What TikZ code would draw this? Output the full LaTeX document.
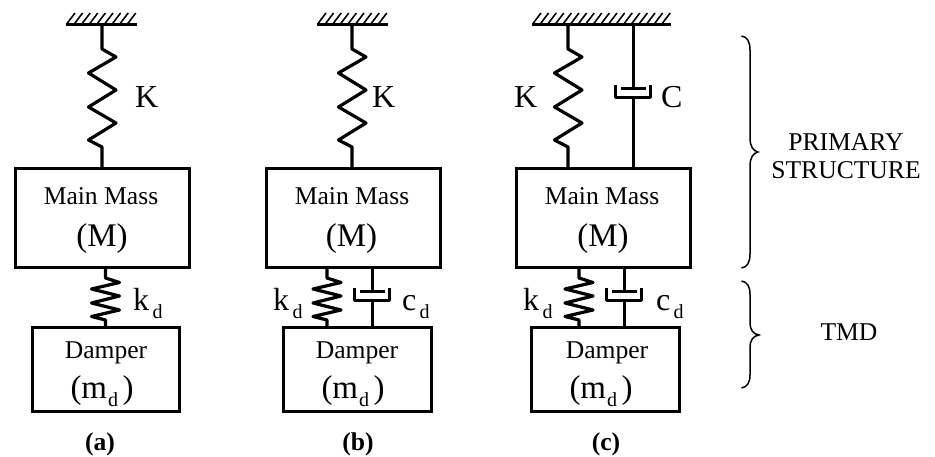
\documentclass[tikz,border=0pt]{standalone}
\usepackage{fontspec}
\setmainfont{Liberation Serif}
\newcommand{\fsz}[1]{\fontsize{#1}{#1}\selectfont}
\newcommand{\subd}[1][3.5pt]{\kern#1\raisebox{-8pt}{\fsz{20}d}}
\tikzset{
  boxstyle/.style={draw,line width=3pt,rectangle,inner sep=0pt,outer sep=0pt},
  wire/.style={line width=3.2pt,line join=round},
  rod/.style={line width=3pt},
  barline/.style={line width=3.2pt},
  hatchline/.style={line width=1.6pt},
  bracel/.style={line width=1.5pt},
  lab/.style={anchor=base,inner sep=0pt,outer sep=0pt,font=\fsz{25.6}},
  big/.style={anchor=base west,inner sep=0pt,outer sep=0pt,font=\fsz{32}},
  paren/.style={anchor=base west,inner sep=0pt,outer sep=0pt,font=\fsz{33}}
}
% ground bar: name, x1, x2
\newcommand{\groundbar}[3]{%
  \draw[barline] (#2,24.5) -- (#3,24.5);
  \pgfmathsetmacro{\hend}{#3-9}
  \pgfmathsetmacro{\hnext}{#2+7.6}
  \foreach \hx in {#2,\hnext,...,\hend}{\draw[hatchline] (\hx+1,23.5) -- (\hx+9,13);}
}
% upper spring from coordinate to coordinate
\newcommand{\upspring}[2]{%
  \draw[wire] (#1) -- ++(0,24.5) -- ++(14,8) -- ++(-27.5,16) -- ++(27.5,17) -- ++(-27.5,17) -- ++(27.5,16) -- ++(-27.5,17) -- ++(13.5,7) -- (#2);
}
% lower spring
\newcommand{\lowspring}[2]{%
  \draw[wire] (#1) -- ++(0,10) -- ++(14,4.5) -- ++(-28,6.5) -- ++(28,7) -- ++(-28,7) -- ++(28,7) -- ++(-28,6.5) -- ++(14,3.5) -- (#2);
}
% dashpot: piston coordinate, upper anchor, lower anchor
\newcommand{\dashpot}[3]{%
  \draw[rod] (#1 |- #2) -- (#1);
  \draw[rod] (#1) ++(-12.5,0) -- ++(25,0);
  \draw[rod,line join=round] (#1) ++(-17.5,-4) -- ++(0,13) -- ++(35,0) -- ++(0,-13);
  \draw[rod] (#1) ++(0,9) -- (#1 |- #3);
}
\begin{document}
\begin{tikzpicture}[x=1pt,y=-1pt]
\useasboundingbox (0,0) rectangle (935,457);

% ----- (a)
\groundbar{a}{66}{137}
\coordinate (ga) at (102,24.5);
\node[boxstyle,minimum width=174pt,minimum height=99pt] (ma) at (102,218.5) {};
\node[boxstyle,minimum width=147pt,minimum height=84pt] (da) at (105.5,369) {};
\coordinate (sa) at (105.5,268);
\upspring{ga}{ga |- ma.north}
\lowspring{sa}{sa |- da.north}
\node[big] (Ka) at (135,108) {K};
\node[big] (kda) at (133,311) {k\subd};
\node[lab] (mma) at (101,205) {Main Mass};
\node[anchor=base,inner sep=0pt,font=\fsz{33}] (Ma) at (102,247) {(M)};
\node[lab] (dpa) at (106,358) {Damper};
\node[paren] (mda) at (70.5,398) {(m\subd[1pt]\kern4.5pt)};
\node[lab,font=\fsz{25.6}\bfseries] (capa) at (100,450) {(a)};

% ----- (b)
\groundbar{b}{317}{388}
\coordinate (gb) at (352,24.5);
\node[boxstyle,minimum width=174pt,minimum height=99pt] (mb) at (353,218.5) {};
\node[boxstyle,minimum width=148pt,minimum height=84pt] (db) at (357,369) {};
\coordinate (sb) at (327,268);
\coordinate (pb) at (372,292);
\upspring{gb}{gb |- mb.north}
\lowspring{sb}{sb |- db.north}
\dashpot{pb}{mb.south}{db.north}
\node[big] (Kb) at (372,108) {K};
\node[big] (kdb) at (273,311) {k\subd};
\node[big] (cdb) at (402,311) {c\subd};
\node[lab] (mmb) at (352,205) {Main Mass};
\node[anchor=base,inner sep=0pt,font=\fsz{33}] (Mb) at (351.5,247) {(M)};
\node[lab] (dpb) at (357,358) {Damper};
\node[paren] (mdb) at (321.5,398) {(m\subd[1pt]\kern4.5pt)};
\node[lab,font=\fsz{25.6}\bfseries] (capb) at (358,450) {(b)};

% ----- (c)
\groundbar{c}{532}{671}
\coordinate (gc) at (568,24.5);
\coordinate (gd) at (633,24.5);
\node[boxstyle,minimum width=174pt,minimum height=99pt] (mc) at (603,218.5) {};
\node[boxstyle,minimum width=148pt,minimum height=84pt] (dc) at (605,369) {};
\coordinate (sc) at (579,268);
\coordinate (pc) at (624,292);
\coordinate (pu) at (633,89);
\upspring{gc}{gc |- mc.north}
\dashpot{pu}{gd}{mc.north}
\lowspring{sc}{sc |- dc.north}
\dashpot{pc}{mc.south}{dc.north}
\node[big] (Kc) at (514,108) {K};
\node[big] (Cc) at (661,108) {C};
\node[big] (kdc) at (523,311) {k\subd};
\node[big] (cdc) at (656,311) {c\subd};
\node[lab] (mmc) at (602,205) {Main Mass};
\node[anchor=base,inner sep=0pt,font=\fsz{33}] (Mc) at (603,247) {(M)};
\node[lab] (dpc) at (607,358) {Damper};
\node[paren] (mdc) at (569.5,398) {(m\subd[1pt]\kern4.5pt)};
\node[lab,font=\fsz{25.6}\bfseries] (capc) at (606,450) {(c)};

% ----- braces
\draw[bracel] (741.5,36) .. controls (747,37) and (750,41) .. (750,50) -- (750,138)
  .. controls (750,146) and (753,151) .. (758,152) .. controls (753,153) and (750,158) .. (750,166)
  -- (750,254) .. controls (750,263) and (747,267) .. (741.5,268);
\draw[bracel] (741.5,281) .. controls (747,282) and (750,286) .. (750,294) -- (750,322)
  .. controls (750,330) and (753,334) .. (759,335) .. controls (753,336) and (750,340) .. (750,348)
  -- (750,375) .. controls (750,383) and (747,387) .. (741.5,388);
\node[lab] (ps1) at (846,150.7) {PRIMARY};
\node[lab] (ps2) at (846,179) {STRUCTURE};
\node[lab] (tmd) at (849,341) {TMD};
\end{tikzpicture}
\end{document}
